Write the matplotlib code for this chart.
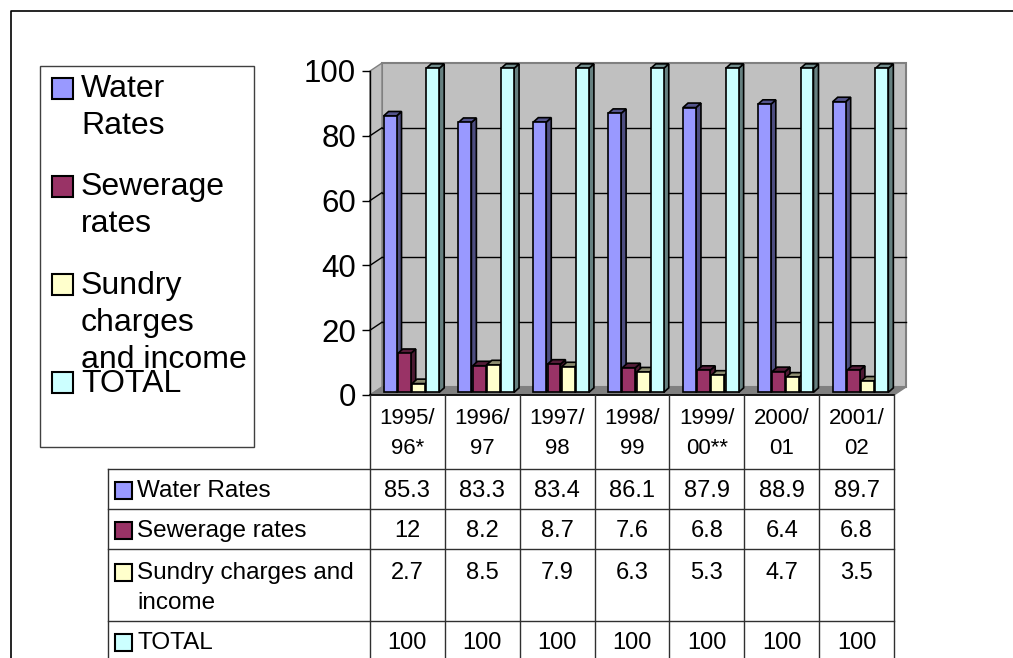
import matplotlib
matplotlib.use("Agg")
import matplotlib.pyplot as plt
import matplotlib.transforms as mtransforms
from matplotlib.patches import Polygon, Rectangle
from matplotlib.lines import Line2D
from matplotlib.colors import to_rgb

# revenue shares per year (%)
years = ["1995/\n96*", "1996/\n97", "1997/\n98", "1998/\n99", "1999/\n00**", "2000/\n01", "2001/\n02"]
water = [85.3, 83.3, 83.4, 86.1, 87.9, 88.9, 89.7]
sewerage = [12, 8.2, 8.7, 7.6, 6.8, 6.4, 6.8]
sundry = [2.7, 8.5, 7.9, 6.3, 5.3, 4.7, 3.5]
total = [100, 100, 100, 100, 100, 100, 100]

series = [water, sewerage, sundry, total]
row_names = ["Water Rates", "Sewerage rates", "Sundry charges and\nincome", "TOTAL"]
legend_names = ["Water\nRates", "Sewerage\nrates", "Sundry\ncharges\nand income", "TOTAL"]
colors = ["#9999FF", "#993366", "#FFFFCC", "#CCFFFF"]

plt.rcParams["font.family"] = ["Liberation Sans", "DejaVu Sans"]

W, H = 1013, 658
fig = plt.figure(figsize=(W / 100, H / 100), dpi=100)
# pixel coords measured from the top-left corner
px = mtransforms.Affine2D().scale(1, -1).translate(0, H)
ident = mtransforms.IdentityTransform()


def shade(c, f):
    r, g, b = to_rgb(c)
    return (r * f, g * f, b * f)


def line(xs, ys, tr, **kw):
    fig.add_artist(Line2D(xs, ys, transform=tr, **kw))


# outer frame (top and left edges)
line([11, 11, W], [H, 11, 11], px, color="black", lw=1.2)

# plot area
ax = fig.add_axes([370 / W, 1 - 395 / H, 524 / W, 324 / H])
ax.set_xlim(-0.5, len(years) - 0.5)
ax.set_ylim(0, 100)
ax.patch.set_visible(False)
for s in ["top", "right", "bottom"]:
    ax.spines[s].set_visible(False)
ax.spines["left"].set_linewidth(1.0)
ax.spines["left"].set_zorder(10)
ax.set_xticks([])
ax.set_yticks(range(0, 101, 20))
ax.tick_params(axis="y", length=6, width=1, labelsize=22.5, pad=4)

DX, DY = 12, 8      # depth of the chart box in pixels
x0, x1 = -0.5, len(years) - 0.5


def P(x, y, d=0.0):
    X, Y = ax.transData.transform((x, y))
    return (X + d * DX, Y + d * DY)


def poly(pts, fc, ec, lw, z):
    ax.add_patch(Polygon(pts, closed=True, facecolor=fc, edgecolor=ec, lw=lw,
                         transform=ident, clip_on=False, zorder=z, joinstyle="miter"))


# walls and floor
poly([P(x0, 0, 1), P(x1, 0, 1), P(x1, 100, 1), P(x0, 100, 1)], "#C0C0C0", "#808080", 1.5, 1)
poly([P(x0, 0), P(x0, 100), P(x0, 100, 1), P(x0, 0, 1)], "#C0C0C0", "#808080", 1.0, 1)
poly([P(x0, 0), P(x1, 0), P(x1, 0, 1), P(x0, 0, 1)], "#808080", "#808080", 1.0, 1)
for v in range(20, 100, 20):
    a, b = P(x0, v, 1), P(x1, v, 1)
    ax.add_line(Line2D([a[0], b[0]], [a[1], b[1]], transform=ident, color="black",
                       lw=1.0, clip_on=False, zorder=2))
    a, b = P(x0, v), P(x0, v, 1)
    ax.add_line(Line2D([a[0], b[0]], [a[1], b[1]], transform=ident, color="black",
                       lw=1.0, clip_on=False, zorder=2))
a, b = P(x0, 0), P(x1, 0)
ax.add_line(Line2D([a[0], b[0]], [a[1], b[1]], transform=ident, color="black",
                   lw=1.2, clip_on=False, zorder=10))

# 3D bars
bw, step, d0 = 0.173, 0.19, 0.33
BX, BY = 5, 4.5
z = 3
for j in range(len(years)):
    for i, vals in enumerate(series):
        v = vals[j]
        xl = j + (i - 1.5) * step - bw / 2
        xr = xl + bw
        fl, fr = P(xl, 0, d0), P(xr, 0, d0)
        tl, tr = P(xl, v, d0), P(xr, v, d0)
        front = [fl, fr, tr, tl]
        side = [fr, (fr[0] + BX, fr[1] + BY), (tr[0] + BX, tr[1] + BY), tr]
        top = [tl, tr, (tr[0] + BX, tr[1] + BY), (tl[0] + BX, tl[1] + BY)]
        poly(side, shade(colors[i], 0.5), "black", 1.2, z)
        poly(top, shade(colors[i], 0.55), "black", 1.2, z)
        poly(front, colors[i], "black", 1.2, z + 1)
        z += 2

# legend box
fig.add_artist(Rectangle((40, 66), 214, 381, transform=px, facecolor="white",
                         edgecolor="#404040", lw=1.0))
for k, name in enumerate(legend_names):
    yc = 88 + k * 98.3
    fig.add_artist(Rectangle((52, yc - 10.5), 21, 21, transform=px, facecolor=colors[k],
                             edgecolor="black", lw=1.5))
    for n, t in enumerate(name.split("\n")):
        fig.text(81, yc + 1 + n * 37, t, transform=px, fontsize=23, va="center", ha="left")

# data table
xr_px = ax.transData.transform((x1, 0))[0]
blend = mtransforms.blended_transform_factory(ax.transData, px)
tcol = "#303030"
for j in range(len(years) + 1):
    line([j - 0.5, j - 0.5], [395, H], blend, color=tcol, lw=1.0)
for yy in [469, 509, 549, 621]:
    line([108, xr_px], [yy, yy], px, color=tcol, lw=1.0)
line([108, 108], [469, H], px, color=tcol, lw=1.0)

for j, lab in enumerate(years):
    for n, t in enumerate(lab.split("\n")):
        fig.text(j, 419 + n * 30, t, transform=blend, fontsize=16, ha="center", va="center")

row_y = [491, 531, 573, 643]
for i, vals in enumerate(series):
    yc = row_y[i]
    fig.add_artist(Rectangle((115, yc - 9), 17, 17, transform=px, facecolor=colors[i],
                             edgecolor="black", lw=1.5))
    for n, t in enumerate(row_names[i].split("\n")):
        fig.text(137, yc + n * 30, t, transform=px, fontsize=17.5, ha="left", va="center")
    for j, v in enumerate(vals):
        fig.text(j, yc, f"{v:g}", transform=blend, fontsize=17, ha="center", va="center")

fig.savefig("out.png", dpi=100)
